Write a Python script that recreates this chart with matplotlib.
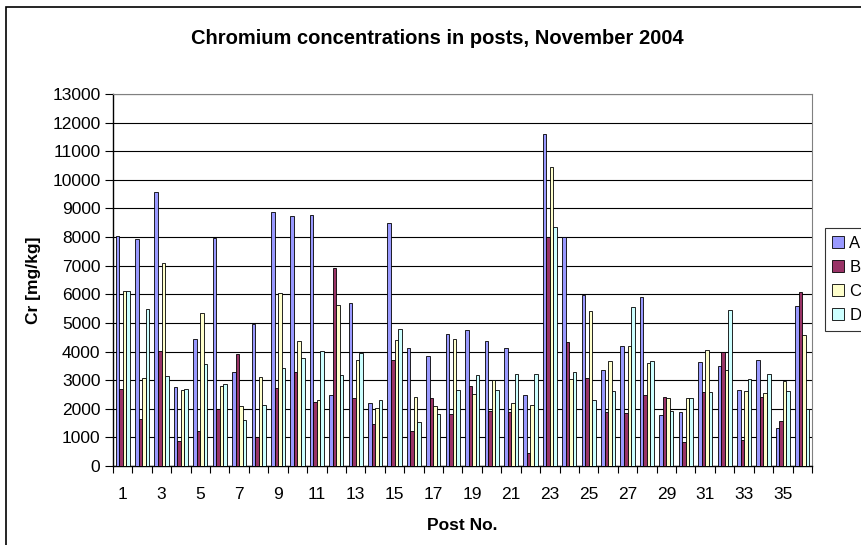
import matplotlib
matplotlib.use("Agg")
import matplotlib.pyplot as plt
from matplotlib.patches import Rectangle
import numpy as np

plt.rcParams['font.family'] = ['Liberation Sans', 'DejaVu Sans']

posts = list(range(1, 37))
A = [8030, 7920, 9570, 2770, 4450, 7960, 3290, 4960, 8870, 8730, 8760, 2490,
     5680, 2210, 8500, 4110, 3860, 4630, 4770, 4380, 4110, 2490, 11600, 7990,
     5960, 3360, 4180, 5910, 1780, 1890, 3650, 3500, 2660, 3690, 1340, 5580]
B = [2700, 1650, 4020, 880, 1230, 1990, 3900, 1000, 2730, 3270, 2250, 6930,
     2370, 1470, 3710, 1230, 2370, 1810, 2800, 1930, 1890, 460, 7990, 4330,
     3080, 1890, 1850, 2490, 2410, 840, 2600, 3970, 910, 2420, 1580, 6070]
C = [6130, 3080, 7080, 2650, 5360, 2800, 2100, 3120, 6050, 4380, 2290, 5610,
     3710, 2030, 4420, 2420, 2100, 4450, 2520, 3010, 2210, 2140, 10440, 3050,
     5430, 3680, 4180, 3610, 2370, 2370, 4040, 3360, 2610, 2540, 2960, 4570]
D = [6130, 5500, 3150, 2700, 3570, 2870, 1600, 2140, 3420, 3790, 4030, 3190,
     3960, 2310, 4800, 1530, 1810, 2650, 3190, 2650, 3220, 3220, 8350, 3290,
     2290, 2630, 5570, 3680, 1930, 2370, 2600, 5440, 3030, 3200, 2630, 2000]
series_names = ['A', 'B', 'C', 'D']
series_values = [A, B, C, D]
colors = ['#9999FF', '#993366', '#FFFFCC', '#CCFFFF']
yticks = list(range(0, 13001, 1000))
xticklabels = [str(p) for p in posts[::2]]

W, H = 862, 545
fig = plt.figure(figsize=(W / 100, H / 100), dpi=100)
ax = fig.add_axes([113 / W, (H - 466) / H, (812 - 113) / W, (466 - 94) / H])

x = np.array(posts, dtype=float)
bw = 1 / 5.5
for i, (name, vals, col) in enumerate(zip(series_names, series_values, colors)):
    ax.bar(x + (i - 1.5) * bw, vals, width=bw, color=col, edgecolor='black',
           linewidth=0.6, label=name, zorder=3)

ax.set_xlim(0.5, 36.5)
ax.set_ylim(0, 13000)
ax.set_yticks(yticks)
ax.set_yticklabels([str(v) for v in yticks], fontsize=12.5)
ax.yaxis.grid(True, color='black', linewidth=0.8, zorder=0)
ax.tick_params(axis='y', direction='out', length=6, width=0.8, pad=3)

ax.set_xticks(posts[::2])
ax.set_xticklabels(xticklabels, fontsize=12.5)
ax.set_xticks(np.arange(0.5, 37, 1.0), minor=True)
ax.tick_params(axis='x', which='major', length=0, pad=15)
ax.tick_params(axis='x', which='minor', direction='out', length=5, width=0.8)

for s in ['top', 'right']:
    ax.spines[s].set_color('#808080')
    ax.spines[s].set_linewidth(0.8)
for s in ['left', 'bottom']:
    ax.spines[s].set_color('black')
    ax.spines[s].set_linewidth(1.0)

ax.set_xlabel('Post No.', fontsize=12.5, fontweight='bold', labelpad=12)
ax.set_ylabel('Cr [mg/kg]', fontsize=12.5, fontweight='bold', labelpad=8)

fig.text(437 / W, 1 - 38 / H, 'Chromium concentrations in posts, November 2004',
         ha='center', va='center', fontsize=14.5, fontweight='bold')

leg = fig.legend(loc='upper left', bbox_to_anchor=(825 / W, 1 - 228 / H),
                 bbox_transform=fig.transFigure, borderaxespad=0,
                 fontsize=12, frameon=True, fancybox=False, edgecolor='black',
                 handlelength=0.7, handleheight=0.7, handletextpad=0.3,
                 labelspacing=0.55, borderpad=0.45)
leg.get_frame().set_linewidth(0.8)

frame = Rectangle((6 / W, -0.1), 1.2, 1.1 - 7 / H, transform=fig.transFigure,
                  fill=False, edgecolor='black', linewidth=1.2)
fig.patches.append(frame)

fig.savefig('out.png', dpi=100)
